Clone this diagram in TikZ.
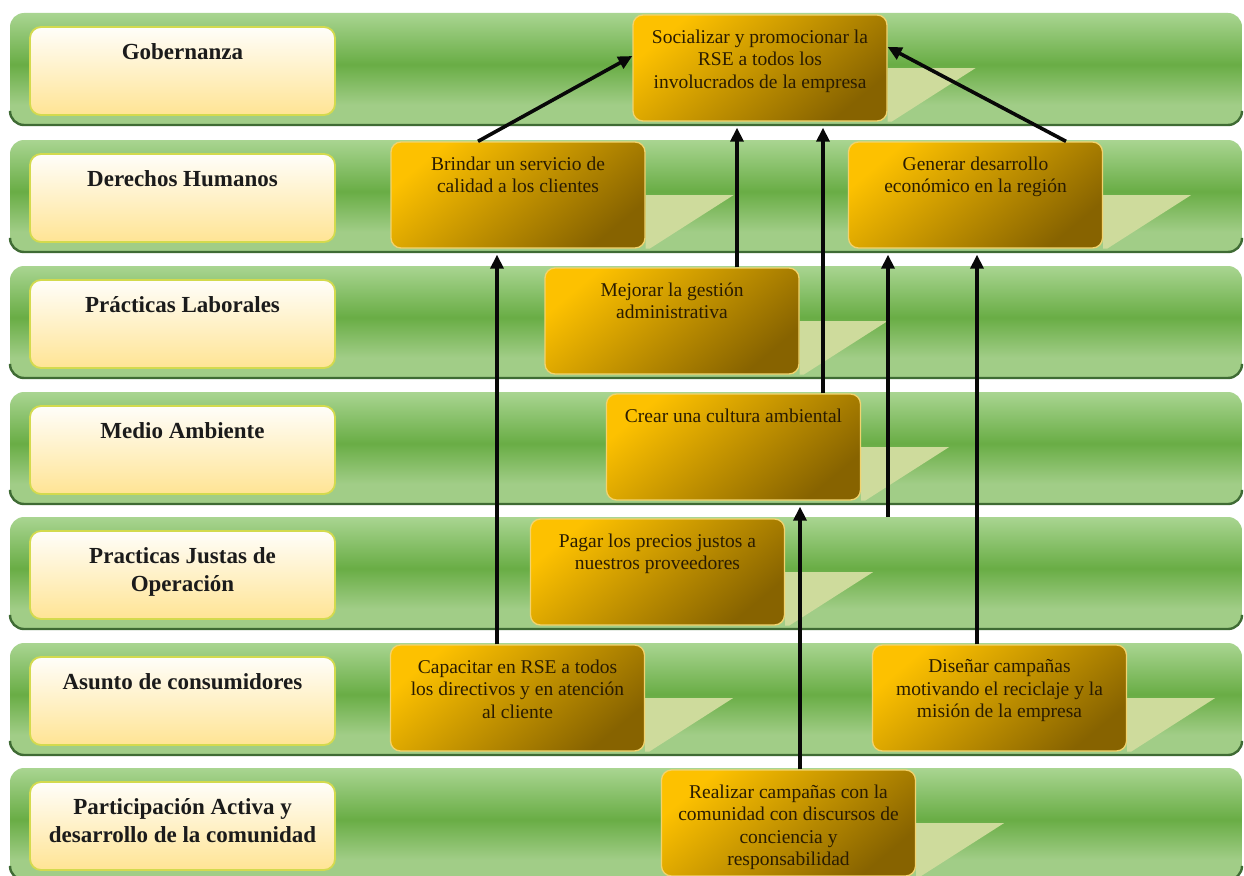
\documentclass[tikz,border=0pt]{standalone}
\usepackage{fontspec}
\setmainfont{Liberation Serif}
\usetikzlibrary{arrows.meta,calc}
\definecolor{bandT}{HTML}{A9D591}
\definecolor{bandD}{HTML}{69AD45}
\definecolor{bandB}{HTML}{A1CD87}
\definecolor{bandedge}{HTML}{3F6B34}
\definecolor{labtop}{HTML}{FFFEFA}
\definecolor{labbot}{HTML}{FFE494}
\definecolor{labedge}{HTML}{D3DA4E}
\definecolor{otop}{HTML}{FDC100}
\definecolor{omid}{HTML}{D8A100}
\definecolor{obot}{HTML}{876300}
\definecolor{oedge}{HTML}{F2D36E}
\definecolor{oink}{HTML}{2A1C02}
\definecolor{labink}{HTML}{1B1B1B}
\definecolor{glowc}{HTML}{CEDB9C}
\definecolor{arrc}{HTML}{080808}
\pgfdeclareverticalshading{bandshade}{100bp}{color(0bp)=(bandB); color(25bp)=(bandB); color(34bp)=(bandB); color(52bp)=(bandD); color(75bp)=(bandT); color(100bp)=(bandT)}
\pgfdeclarelayer{bg}
\pgfsetlayers{bg,main}
\begin{document}
\begin{tikzpicture}[x=1pt,y=-1pt,
  band/.style={shading=bandshade, rounded corners=14pt},
  bandline/.style={draw=bandedge, line width=2.4pt, rounded corners=14pt},
  lab/.style={draw=labedge, line width=1.8pt, rounded corners=11pt, top color=labtop, bottom color=labbot, minimum width=305pt, minimum height=88pt, inner sep=0pt},
  labtext/.style={font=\fontsize{23}{28.5}\selectfont\bfseries, text=labink, align=center, inner sep=0pt, anchor=north},
  obox/.style={draw=oedge, line width=1.3pt, rounded corners=10pt, top color=otop, middle color=omid, bottom color=obot, shading angle=40, minimum width=254pt, minimum height=106pt, inner sep=0pt},
  otext/.style={font=\fontsize{19.5}{22.5}\selectfont, text=oink, align=center, inner sep=0pt, anchor=north},
  glow/.style={fill=glowc},
  arr/.style={line width=3.6pt, draw=arrc, -{Triangle[length=14pt,width=13pt]}, shorten >=6pt}
]
\useasboundingbox (0,0) rectangle (1244,875);
\clip (0,0) rectangle (1244,875);

% background and bands
\begin{pgfonlayer}{bg}
\fill[white] (0,0) rectangle (1244,875);
\foreach \t in {13,140,266,392,517,643,768} {
  \path[band] (10,\t) rectangle (1242,\t+112);
  \draw[bandline] (10,\t+98.5) -- (10,\t+112) -- (1242,\t+112) -- (1242,\t+98.5);
}
\end{pgfonlayer}

% category labels
\node[lab] (lab1) at (182.5,71) {};
\node[lab] (lab2) at (182.5,198) {};
\node[lab] (lab3) at (182.5,324) {};
\node[lab] (lab4) at (182.5,450) {};
\node[lab] (lab5) at (182.5,575) {};
\node[lab] (lab6) at (182.5,701) {};
\node[lab] (lab7) at (182.5,826) {};
\node[labtext] (lab1t) at ([yshift=-17pt]lab1.north) {Gobernanza};
\node[labtext] (lab2t) at ([yshift=-17pt]lab2.north) {Derechos Humanos};
\node[labtext] (lab3t) at ([yshift=-17pt]lab3.north) {Prácticas Laborales};
\node[labtext] (lab4t) at ([yshift=-17pt]lab4.north) {Medio Ambiente};
\node[labtext] (lab5t) at ([yshift=-17pt]lab5.north) {Practicas Justas de\\Operación};
\node[labtext] (lab6t) at ([yshift=-17pt]lab6.north) {Asunto de consumidores};
\node[labtext] (lab7t) at ([yshift=-17pt]lab7.north) {Participación Activa y\\desarrollo de la comunidad};

% action boxes
\node[obox] (soc) at (760,68) {};
\node[obox] (brin) at (518,195) {};
\node[obox] (gen) at (975.5,195) {};
\node[obox] (mej) at (672,321) {};
\node[obox] (crear) at (733.5,447) {};
\node[obox] (pagar) at (657.5,572) {};
\node[obox] (cap) at (517.5,698) {};
\node[obox] (dis) at (999.5,698) {};
\node[obox] (real) at (788.5,823) {};

\begin{pgfonlayer}{bg}
\foreach \b in {soc,brin,gen,mej,crear,pagar,cap,dis,real} {
  \fill[glow] (\b.east) -- ([xshift=88pt]\b.east) -- ([xshift=4pt]\b.south east) -- (\b.south east) -- cycle;
}
\end{pgfonlayer}

\node[otext] (soct) at ([yshift=-15pt]soc.north) {Socializar y promocionar la\\RSE a todos los\\involucrados de la empresa};
\node[otext] (brint) at ([yshift=-15pt]brin.north) {Brindar un servicio de\\calidad a los clientes};
\node[otext] (gent) at ([yshift=-15pt]gen.north) {Generar desarrollo\\económico en la región};
\node[otext] (mejt) at ([yshift=-15pt]mej.north) {Mejorar la gestión\\administrativa};
\node[otext] (creart) at ([yshift=-15pt]crear.north) {Crear una cultura ambiental};
\node[otext] (pagart) at ([yshift=-15pt]pagar.north) {Pagar los precios justos a\\nuestros proveedores};
\node[otext] (capt) at ([yshift=-15pt]cap.north) {Capacitar en RSE a todos\\los directivos y en atención\\al cliente};
\node[otext] (dist) at ([yshift=-15pt]dis.north) {Diseñar campañas\\motivando el reciclaje y la\\misión de la empresa};
\node[otext] (realt) at ([yshift=-15pt]real.north) {Realizar campañas con la\\comunidad con discursos de\\conciencia y\\responsabilidad};

% connectors
\draw[arr, shorten >=0pt] ([xshift=-40pt]brin.north) -- ([yshift=12pt]soc.west);
\draw[arr, shorten >=0pt] ([xshift=90.5pt]gen.north) -- ([yshift=21pt]soc.east);

\coordinate (c1) at ([xshift=-20.5pt]cap.north);
\draw[arr] (c1) -- (c1 |- brin.south);
\coordinate (c2) at ([xshift=65pt]mej.north);
\draw[arr] (c2) -- (c2 |- soc.south);
\coordinate (c3) at ([xshift=89.5pt]crear.north);
\draw[arr] (c3) -- (c3 |- soc.south);
\coordinate (c4) at ([xshift=11.5pt]real.north);
\draw[arr] (c4) -- (c4 |- crear.south);
\coordinate (free) at (888,517);
\draw[arr] (free) -- (free |- gen.south);
\coordinate (c5) at ([xshift=-22.5pt]dis.north);
\draw[arr] (c5) -- (c5 |- gen.south);
\end{tikzpicture}
\end{document}
